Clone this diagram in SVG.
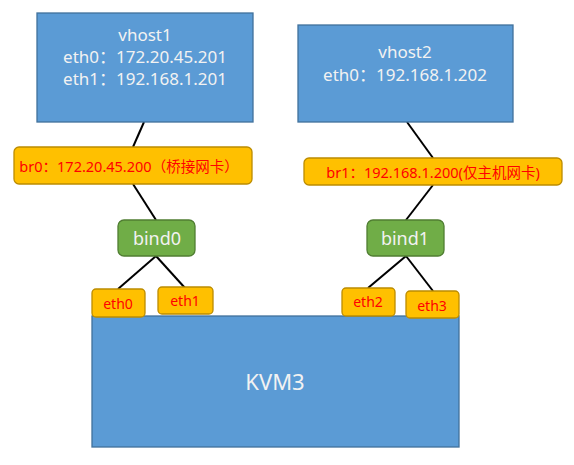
<svg xmlns="http://www.w3.org/2000/svg" width="574" height="465" viewBox="0 0 574 465">
<style>
text{font-family:"Noto Sans","Noto Sans CJK SC",sans-serif;}
.host{fill:#5B9BD5;stroke:#41719C;stroke-width:1.3;}
.br{fill:#FFC000;stroke:#BC8C00;stroke-width:1.3;}
.bond{fill:#70AD47;stroke:#507E32;stroke-width:1.3;}
.wt{fill:#F2F2F2;text-anchor:middle;}
.rt{fill:#FF0000;text-anchor:middle;}
.ln{stroke:#000;stroke-width:2;fill:none;}
</style>
<rect width="574" height="465" fill="#fff"/>
<g id="connectors">
<line class="ln" x1="144" y1="122" x2="133" y2="147"/>
<line class="ln" x1="133" y1="184" x2="156" y2="220"/>
<line class="ln" x1="407" y1="122" x2="433" y2="158"/>
<line class="ln" x1="433" y1="185" x2="406" y2="220"/>
<line class="ln" x1="156" y1="256" x2="118" y2="289"/>
<line class="ln" x1="156" y1="256" x2="185" y2="288"/>
<line class="ln" x1="406" y1="256" x2="368" y2="288"/>
<line class="ln" x1="406" y1="256" x2="433" y2="291"/>
</g>
<g id="vhost1">
<rect class="host" x="37" y="13" width="216" height="109"/>
<text class="wt" x="145" y="41" font-size="17">vhost1</text>
<text class="wt" x="145" y="63" font-size="17">eth0：172.20.45.201</text>
<text class="wt" x="145" y="85" font-size="17">eth1：192.168.1.201</text>
</g>
<g id="vhost2">
<rect class="host" x="298" y="25" width="215" height="97"/>
<text class="wt" x="405" y="58" font-size="17">vhost2</text>
<text class="wt" x="405" y="81" font-size="17">eth0：192.168.1.202</text>
</g>
<g id="br0">
<rect class="br" x="14" y="147" width="238" height="37" rx="5"/>
<text class="rt" x="129" y="172" font-size="14.5">br0：172.20.45.200（桥接网卡）</text>
</g>
<g id="br1">
<rect class="br" x="304" y="158" width="258" height="27" rx="5"/>
<text class="rt" x="433" y="178" font-size="14.5">br1：192.168.1.200(仅主机网卡)</text>
</g>
<g id="bind0">
<rect class="bond" x="118" y="220" width="77" height="36" rx="6"/>
<text class="wt" x="157" y="245" font-size="18">bind0</text>
</g>
<g id="bind1">
<rect class="bond" x="367" y="220" width="77" height="36" rx="6"/>
<text class="wt" x="405" y="245" font-size="18">bind1</text>
</g>
<g id="kvm3">
<rect class="host" x="92" y="316" width="367" height="131"/>
<text class="wt" x="275" y="390" font-size="22">KVM3</text>
</g>
<g id="eth0">
<rect class="br" x="92" y="289" width="53" height="28" rx="4"/>
<text class="rt" x="118" y="309" font-size="14">eth0</text>
</g>
<g id="eth1">
<rect class="br" x="158" y="287" width="55" height="27" rx="4"/>
<text class="rt" x="185" y="306" font-size="14">eth1</text>
</g>
<g id="eth2">
<rect class="br" x="342" y="288" width="53" height="28" rx="4"/>
<text class="rt" x="368" y="307" font-size="14">eth2</text>
</g>
<g id="eth3">
<rect class="br" x="406" y="291" width="53" height="27" rx="4"/>
<text class="rt" x="432" y="311" font-size="14">eth3</text>
</g>
</svg>
